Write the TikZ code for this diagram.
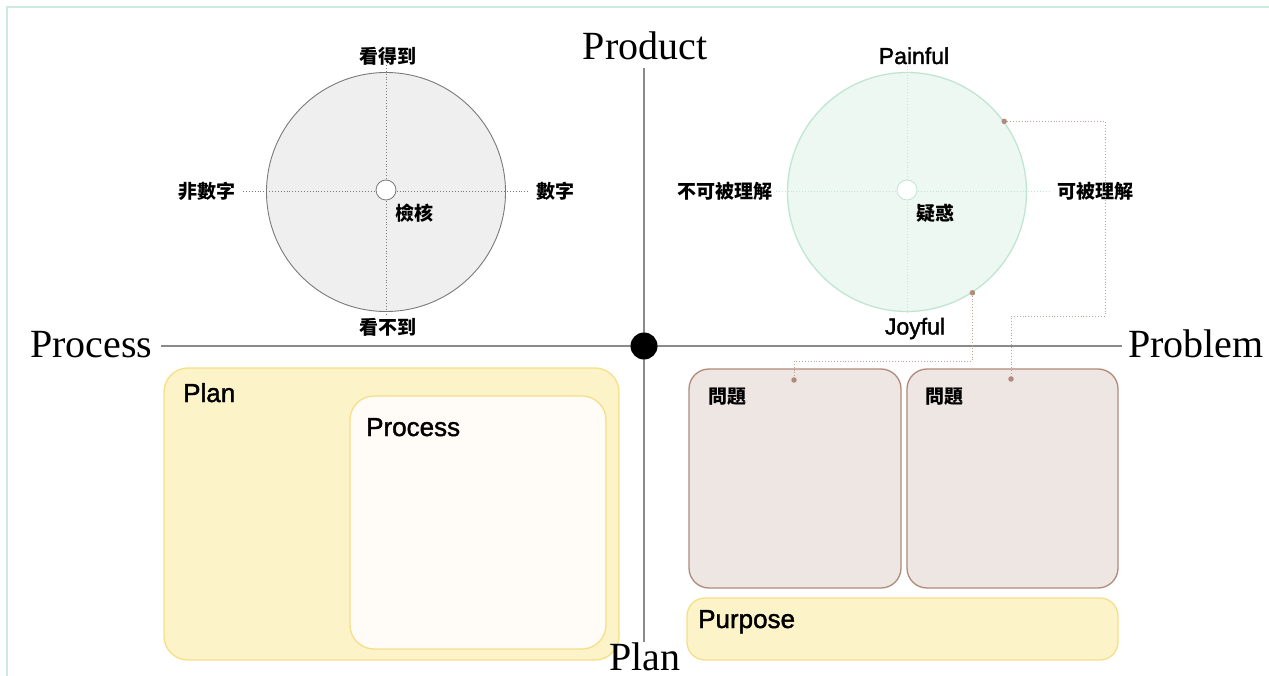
\documentclass[tikz,border=0pt]{standalone}
\usepackage{fontspec}
\setmainfont{Liberation Serif}
\newfontfamily\lat{Liberation Sans}[BoldFont={Liberation Sans},BoldFeatures={FakeBold=1.6}]
\newfontfamily\cjk{Noto Sans CJK TC}
\definecolor{mint}{HTML}{CDEBDC}
\definecolor{axisgray}{HTML}{8A8A8A}
\definecolor{lcfill}{HTML}{EFEFEF}
\definecolor{lcdraw}{HTML}{7A7A7A}
\definecolor{rcfill}{HTML}{EDF8F2}
\definecolor{rcdraw}{HTML}{BFE6D2}
\definecolor{brown}{HTML}{B08A7A}
\definecolor{yfill}{HTML}{FDF3C9}
\definecolor{ydraw}{HTML}{F5DF88}
\definecolor{wfill}{HTML}{FFFBF6}
\definecolor{pfill}{HTML}{EDE6E2}
\tikzset{
  bigserif/.style={font=\fontsize{40}{40}\selectfont, inner sep=0pt},
  cjklab/.style={font=\cjk\bfseries\fontsize{19}{19}\selectfont, inner sep=0pt},
  latlab/.style={font=\lat\bfseries\fontsize{23}{23}\selectfont, inner sep=0pt},
  boxlab/.style={font=\lat\bfseries\fontsize{26}{26}\selectfont, inner sep=0pt, anchor=base west},
  axisline/.style={draw=axisgray, line width=1.3pt},
  bigcircle/.style={circle, minimum size=239pt, inner sep=0pt},
  hub/.style={circle, minimum size=20pt, inner sep=0pt, fill=white, line width=0.8pt},
  grid/.style={dotted, line width=0.9pt},
  conn/.style={draw=brown!80, dotted, line width=0.9pt},
  cdot/.style={circle, fill=brown, minimum size=5.5pt, inner sep=0pt},
  ybox/.style={draw=ydraw, fill=yfill, line width=1.3pt, rounded corners=24pt},
  wbox/.style={draw=ydraw, fill=wfill, line width=1.3pt, rounded corners=24pt},
  pbox/.style={draw=brown, fill=pfill, line width=1.3pt, rounded corners=20pt},
}
\begin{document}
\begin{tikzpicture}[x=1pt,y=-1pt]
\useasboundingbox (0,0) rectangle (1269,676);
\fill[white] (0,0) rectangle (1269,676);
% frame
\draw[mint, line width=2pt] (6.5,676) -- (6.5,7) -- (1269,7);

% axes
\coordinate (axT) at (644,68);
\coordinate (axB) at (644,642);
\coordinate (axL) at (161,346);
\coordinate (axR) at (1122,346);
\draw[axisline] (axT) -- (axB);
\draw[axisline] (axL) -- (axR);
\node[circle, fill=black, minimum size=27pt, inner sep=0pt] (o) at (644,346) {};

\node[bigserif, anchor=base] (prod) at (645,60) {Product};
\node[bigserif, anchor=base west] (proc) at (30,357) {Process};
\node[bigserif, anchor=base west] (prob) at (1128,357) {Problem};

% left circle
\node[bigcircle, draw=lcdraw, fill=lcfill, line width=0.9pt] (lc) at (386,192) {};
\coordinate (lgT) at (386,65);
\coordinate (lgB) at (386,316);
\coordinate (lgL) at (243,191);
\coordinate (lgR) at (530,191);
\draw[grid, draw=lcdraw] (lgT) -- (lgB);
\draw[grid, draw=lcdraw] (lgL) -- (lgR);
\node[hub, draw=lcdraw] (lh) at (386,190) {};
\node[cjklab] (l1) at (388,56) {看得到};
\node[cjklab] (l2) at (388,327) {看不到};
\node[cjklab] (l3) at (207,191) {非數字};
\node[cjklab] (l4) at (555,191) {數字};
\node[cjklab] (l5) at (414,213) {檢核};

% right circle
\node[bigcircle, draw=rcdraw, fill=rcfill, line width=1.3pt] (rc) at (907,192) {};
\coordinate (rgT) at (907,66);
\coordinate (rgB) at (907,314);
\coordinate (rgL) at (776,191);
\coordinate (rgR) at (1049,191);
\draw[grid, draw=rcdraw] (rgT) -- (rgB);
\draw[grid, draw=rcdraw] (rgL) -- (rgR);
\node[hub, draw=rcdraw] (rh) at (907,190) {};
\node[latlab, anchor=base] (r1) at (914,64) {Painful};
\node[latlab, anchor=base] (r2) at (915,334.5) {Joyful};
\node[cjklab] (r3) at (725,191) {不可被理解};
\node[cjklab] (r4) at (1095,191) {可被理解};
\node[cjklab] (r5) at (935,213) {疑惑};

% left boxes
\draw[ybox] (164,368) rectangle (619,660);
\node[boxlab] (planlab) at (183,402) {Plan};
\draw[wbox] (350,396) rectangle (606,649);
\node[boxlab] (proclab) at (366,436) {Process};

% right boxes
\draw[pbox] (689,369) rectangle (901,588);
\draw[pbox] (907,369) rectangle (1118,588);
\node[cjklab, anchor=west] (q1) at (708,397) {問題};
\node[cjklab, anchor=west] (q2) at (925,397) {問題};
\draw[ybox, rounded corners=18pt] (687,598) rectangle (1118,660);
\node[boxlab] (purp) at (698,628) {Purpose};

\node[bigserif, anchor=base] (plan) at (645,670) {Plan};

% connectors
\coordinate (c1) at (rc.36.6);
\coordinate (c2) at (rc.-57);
\coordinate (d1) at (794,380);
\coordinate (d2) at (1011,379);
\draw[conn] (c1) -| (1105,316) -| (d2);
\draw[conn] (c2) |- (794,361) -- (d1);
\node[cdot] at (c1) {};
\node[cdot] at (c2) {};
\node[cdot] at (d1) {};
\node[cdot] at (d2) {};
\end{tikzpicture}
\end{document}
